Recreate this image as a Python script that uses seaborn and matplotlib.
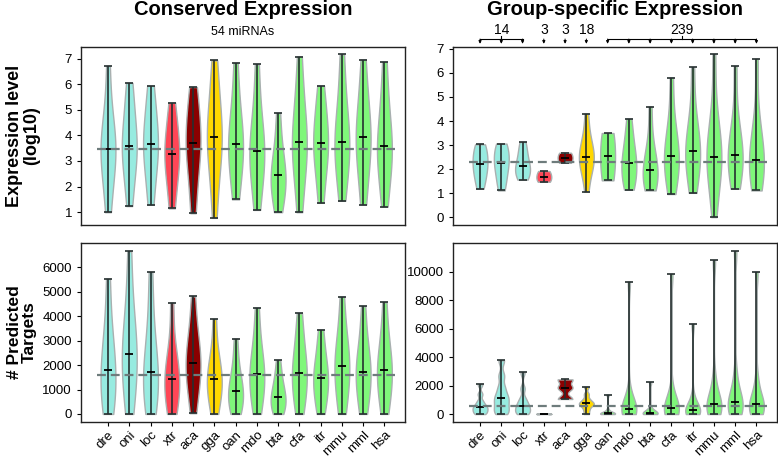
import numpy as np
import pandas as pd
import matplotlib
matplotlib.use("Agg")
import matplotlib.pyplot as plt
import seaborn as sns

species = ["dre", "oni", "loc", "xtr", "aca", "gga", "oan", "mdo",
           "bta", "cfa", "itr", "mmu", "mml", "hsa"]
colors = ["#97ebe0", "#97ebe0", "#97ebe0", "#ff4656", "#8b0000", "#ffd700",
          "#7ff77a", "#7ff77a", "#7ff77a", "#7ff77a", "#7ff77a", "#7ff77a",
          "#7ff77a", "#7ff77a"]

# values: min, ~p10, p25, p40, median, p60, p75, p90, max
cons_expr = [
    [1.00, 2.0, 2.8, 3.25, 3.45, 3.7, 4.2, 5.0, 6.71],
    [1.24, 2.2, 2.9, 3.35, 3.58, 3.9, 4.5, 5.3, 6.05],
    [1.29, 2.2, 2.9, 3.40, 3.65, 3.95, 4.5, 5.2, 5.94],
    [1.15, 1.9, 2.6, 3.00, 3.26, 3.55, 4.0, 4.6, 5.28],
    [0.96, 2.0, 2.9, 3.45, 3.71, 4.0, 4.6, 5.3, 5.89],
    [0.78, 2.3, 3.1, 3.65, 3.94, 4.3, 4.9, 5.8, 6.93],
    [1.50, 2.3, 3.0, 3.40, 3.66, 4.0, 4.6, 5.4, 6.83],
    [1.09, 2.0, 2.7, 3.15, 3.38, 3.7, 4.3, 5.2, 6.77],
    [1.00, 1.5, 1.9, 2.20, 2.44, 2.7, 3.1, 3.8, 4.87],
    [1.00, 2.2, 3.0, 3.45, 3.73, 4.1, 4.8, 5.7, 7.08],
    [1.37, 2.3, 3.0, 3.45, 3.70, 4.0, 4.6, 5.2, 5.94],
    [1.45, 2.4, 3.0, 3.50, 3.75, 4.1, 4.8, 5.7, 7.16],
    [1.30, 2.4, 3.1, 3.60, 3.92, 4.3, 4.9, 5.7, 6.96],
    [1.22, 2.2, 2.9, 3.30, 3.57, 3.9, 4.6, 5.5, 6.87],
]
cons_targets = [
    [0, 300, 800, 1400, 1800, 2200, 2800, 3800, 5540],
    [0, 800, 1500, 2100, 2455, 2900, 3600, 4700, 6660],
    [0, 400, 900, 1400, 1705, 2100, 2800, 4000, 5810],
    [0, 300, 800, 1200, 1430, 1700, 2100, 2800, 4560],
    [30, 900, 1400, 1800, 2070, 2400, 2900, 3500, 4815],
    [0, 500, 900, 1200, 1420, 1650, 2000, 2600, 3890],
    [0, 200, 500, 750, 930, 1150, 1500, 2100, 3080],
    [0, 500, 1000, 1400, 1620, 1900, 2400, 3100, 4350],
    [0, 150, 350, 550, 710, 900, 1200, 1600, 2200],
    [0, 500, 1000, 1450, 1690, 2000, 2500, 3200, 4120],
    [0, 400, 900, 1250, 1470, 1700, 2100, 2700, 3450],
    [0, 600, 1200, 1700, 1965, 2300, 2800, 3500, 4800],
    [0, 500, 1100, 1500, 1730, 2000, 2500, 3200, 4410],
    [0, 600, 1100, 1550, 1800, 2100, 2600, 3300, 4570],
]
group_expr = [
    [1.18, 1.50, 1.80, 2.05, 2.19, 2.40, 2.65, 2.90, 3.03],
    [1.11, 1.45, 1.80, 2.10, 2.25, 2.45, 2.70, 2.95, 3.06],
    [1.56, 1.70, 1.85, 2.00, 2.11, 2.30, 2.55, 2.85, 3.13],
    [1.47, 1.68, 1.92],
    [2.26, 2.47, 2.68],
    [1.06, 1.90, 2.20, 2.40, 2.49, 2.65, 2.90, 3.40, 4.31],
    [1.53, 2.53, 3.50],
    [1.14, 1.40, 1.70, 2.05, 2.27, 2.50, 2.90, 3.40, 4.09],
    [1.11, 1.30, 1.55, 1.80, 1.96, 2.20, 2.60, 3.20, 4.60],
    [0.96, 1.60, 2.00, 2.35, 2.54, 2.80, 3.30, 4.10, 5.81],
    [1.01, 1.70, 2.20, 2.55, 2.76, 3.00, 3.50, 4.30, 6.23],
    [0.00, 1.50, 2.00, 2.30, 2.52, 2.80, 3.30, 4.20, 6.78],
    [1.18, 1.70, 2.10, 2.40, 2.58, 2.85, 3.30, 4.10, 6.28],
    [1.11, 1.50, 1.90, 2.20, 2.39, 2.70, 3.20, 4.00, 6.59],
]
group_targets = [
    [0, 100, 250, 400, 490, 650, 900, 1400, 2090],
    [0, 200, 500, 850, 1100, 1400, 1900, 2700, 3780],
    [0, 100, 250, 450, 590, 800, 1100, 1800, 2930],
    [0, 10, 20],
    [1060, 1850, 2440],
    [0, 300, 550, 680, 750, 850, 1050, 1400, 1920],
    [0, 10, 30, 40, 50, 60, 80, 300, 1360],
    [0, 50, 150, 280, 350, 450, 650, 1500, 9320],
    [0, 10, 30, 50, 70, 100, 150, 400, 2230],
    [0, 60, 180, 320, 400, 500, 700, 1600, 9860],
    [0, 40, 120, 220, 280, 360, 520, 1200, 6360],
    [0, 100, 300, 550, 680, 850, 1200, 2500, 10820],
    [0, 120, 350, 650, 820, 1000, 1400, 2800, 11460],
    [0, 100, 300, 550, 680, 850, 1200, 2400, 10000],
]
# dashed reference lines (overall medians)
ref_lines = {"cons_expr": 3.48, "cons_targets": 1580,
             "group_expr": 2.30, "group_targets": 570}

group_spans = [(0, 2, "14"), (3, 3, "3"), (4, 4, "3"), (5, 5, "18"), (6, 13, "239")]

plt.rcParams["font.family"] = ["Liberation Sans", "DejaVu Sans"]


def long_df(values):
    rows = []
    for sp, vals in zip(species, values):
        for v in vals:
            rows.append((sp, v))
    return pd.DataFrame(rows, columns=["species", "value"])


def violin_panel(ax, values, refval, ylim, bw=1.0):
    df = long_df(values)
    sns.violinplot(data=df, x="species", y="value", hue="species", order=species,
                   hue_order=species, palette=colors, legend=False, cut=0,
                   inner=None, density_norm="width", width=0.7, saturation=1,
                   linewidth=1.0, linecolor="#a9b0b0", bw_adjust=bw, ax=ax)
    for i, vals in enumerate(values):
        lo, med, hi = np.min(vals), np.median(vals), np.max(vals)
        ax.errorbar(i, med, yerr=[[med - lo], [hi - med]], fmt="none",
                    ecolor="#263030", elinewidth=1.2, capsize=2.8, capthick=1.2, zorder=5)
        ax.plot(i, med, marker="_", ms=6, mew=1.3, color="black", zorder=6)
    ax.plot([-0.5, 13.5], [refval, refval], ls="--", dashes=(4, 2.2), lw=1.6,
            color="#6e7c7c", zorder=7)
    ax.set_xlim(-1.27, 13.97)
    ax.set_ylim(*ylim)
    ax.set_xlabel("")
    ax.set_ylabel("")
    for s in ax.spines.values():
        s.set_linewidth(1.0)
        s.set_color("#222222")
    ax.tick_params(axis="y", labelsize=9.5, length=3, width=0.8)
    ax.tick_params(axis="x", labelsize=9.5, length=3, width=0.8, pad=2)


fig = plt.figure(figsize=(7.78, 4.58), dpi=100)
ax_tl = fig.add_axes([0.1041, 0.5087, 0.4165, 0.3886])
ax_tr = fig.add_axes([0.5823, 0.5087, 0.4165, 0.3886])
ax_bl = fig.add_axes([0.1041, 0.0786, 0.4165, 0.3908])
ax_br = fig.add_axes([0.5823, 0.0786, 0.4165, 0.3908])

violin_panel(ax_tl, cons_expr, ref_lines["cons_expr"], (0.5, 7.45))
violin_panel(ax_tr, group_expr, ref_lines["group_expr"], (-0.33, 7.08))
violin_panel(ax_bl, cons_targets, ref_lines["cons_targets"], (-330, 7000))
violin_panel(ax_br, group_targets, ref_lines["group_targets"], (-560, 12040), bw=0.4)

ax_tl.set_yticks(range(1, 8))
ax_tr.set_yticks(range(0, 8))
ax_bl.set_yticks(range(0, 7000, 1000))
ax_br.set_yticks(range(0, 12000, 2000))

for ax in (ax_tl, ax_tr):
    ax.tick_params(axis="x", bottom=False, labelbottom=False)
for ax in (ax_bl, ax_br):
    ax.set_xticks(range(len(species)))
    ax.set_xticklabels(species, rotation=45, ha="right", rotation_mode="anchor")

ax_tl.set_ylabel("Expression level\n(log10)", fontsize=13, fontweight="bold",
                 linespacing=1.0)
ax_tl.yaxis.set_label_coords(-0.125, 0.5)
ax_bl.set_ylabel("# Predicted\nTargets", fontsize=12.5, fontweight="bold",
                 linespacing=1.0)
ax_bl.yaxis.set_label_coords(-0.135, 0.5)

fig.text(0.3124, 0.980, "Conserved Expression", ha="center", va="center",
         fontsize=14.5, fontweight="bold")
fig.text(0.3124, 0.930, "54 miRNAs", ha="center", va="center", fontsize=9)
fig.text(0.7906, 0.980, "Group-specific Expression", ha="center", va="center",
         fontsize=14.5, fontweight="bold")

# group size brackets above the right panel
tr = ax_tr.get_xaxis_transform()
y_bar, y_tip, y_txt = 1.045, 1.018, 1.095
for a, b, label in group_spans:
    for i in range(a, b + 1):
        ax_tr.annotate("", xy=(i, y_tip), xytext=(i, y_bar), xycoords=tr,
                       textcoords=tr, annotation_clip=False,
                       arrowprops=dict(arrowstyle="-|>", lw=0.7, color="black",
                                       mutation_scale=4, shrinkA=0, shrinkB=0))
    mid = (a + b) / 2
    if b > a:
        ax_tr.plot([a, b], [y_bar, y_bar], transform=tr, clip_on=False,
                   color="black", lw=0.8)
        ax_tr.plot([mid, mid], [y_bar, y_bar + 0.015], transform=tr,
                   clip_on=False, color="black", lw=0.8)
    ax_tr.text(mid, y_txt, label, transform=tr, ha="center", va="center",
               fontsize=10)

fig.savefig("out.png", dpi=100)
